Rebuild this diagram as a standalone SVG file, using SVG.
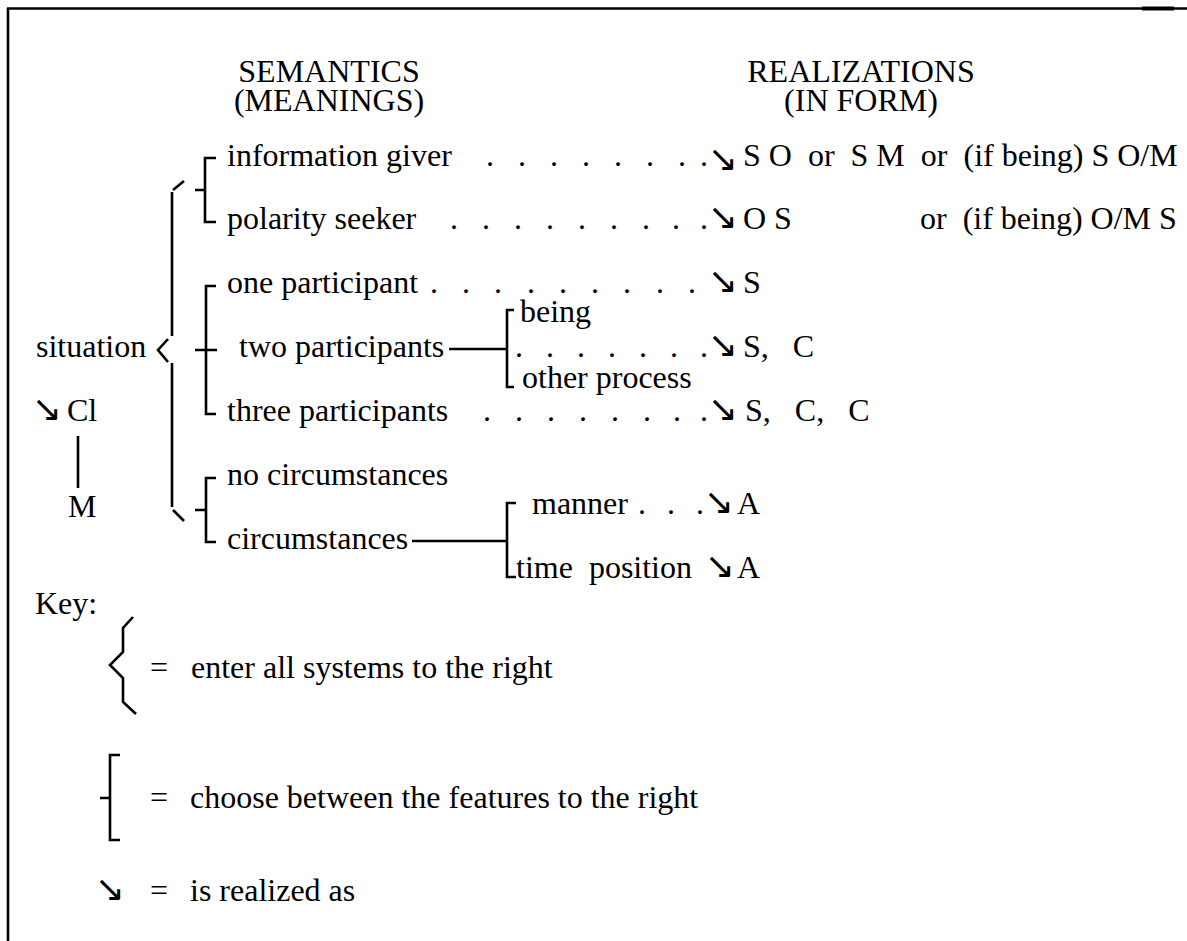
<svg xmlns="http://www.w3.org/2000/svg" width="1187" height="941" viewBox="0 0 1187 941">
<style>
text{font-family:'Liberation Serif','Times New Roman',Times,serif;font-size:32px;fill:#000}
.a{font-family:'DejaVu Sans',sans-serif;font-size:36px}
.ln{stroke:#000;stroke-width:2.6;fill:none}
</style>
<rect width="1187" height="941" fill="#fff"/>
<g id="frame" class="ln">
<path d="M7,8.5 H1187"/>
<path d="M1142,8.5 H1174" stroke-width="4"/>
<path d="M8,8 V941"/>
</g>
<g id="hdr-semantics"><text text-anchor="middle"><tspan x="329" y="82">SEMANTICS</tspan><tspan x="329" y="111">(MEANINGS)</tspan></text></g>
<g id="hdr-realizations"><text text-anchor="middle"><tspan x="861" y="82">REALIZATIONS</tspan><tspan x="861" y="111">(IN FORM)</tspan></text></g>
<g id="situation"><text x="36" y="357">situation</text></g>
<g id="cl"><text><tspan class="a" x="32" y="421">↘</tspan><tspan x="67" y="421">Cl</tspan></text></g>
<g id="m"><text x="68" y="517">M</text></g>
<g id="info-giver"><text x="227" y="166">information giver</text><text y="166"><tspan x="486 518 550 582 614 646 678 700">........</tspan><tspan class="a" x="708" y="171">↘</tspan><tspan x="743" y="166" xml:space="preserve">S O  or  S M  or  (if being) S O/M</tspan></text></g>
<g id="polarity-seeker"><text x="227" y="229">polarity seeker</text><text y="229"><tspan x="450 482 514 546 578 610 642 672 700">.........</tspan><tspan class="a" x="708">↘</tspan><tspan x="743">O S</tspan><tspan x="920" xml:space="preserve">or  (if being) O/M S</tspan></text></g>
<g id="one-participant"><text x="227" y="293">one participant</text><text y="293"><tspan x="430 462 494 527 559 591 623 656 688">.........</tspan><tspan class="a" x="708">↘</tspan><tspan x="743">S</tspan></text></g>
<g id="two-participants"><text x="239" y="357">two participants</text><text y="357"><tspan x="515 546 577 608 639 670 700">.......</tspan><tspan class="a" x="708">↘</tspan><tspan x="743" xml:space="preserve">S,   C</tspan></text></g>
<g id="being"><text x="520" y="322">being</text></g>
<g id="other-process"><text x="522" y="388">other process</text></g>
<g id="three-participants"><text x="227" y="421">three participants</text><text y="421"><tspan x="483 515 547 579 611 643 673 700">........</tspan><tspan class="a" x="708">↘</tspan><tspan x="745" xml:space="preserve">S,   C,   C</tspan></text></g>
<g id="no-circumstances"><text x="227" y="485">no circumstances</text></g>
<g id="circumstances"><text x="227" y="549">circumstances</text></g>
<g id="manner"><text x="532" y="514">manner</text><text y="514"><tspan x="638 667 696">...</tspan><tspan class="a" x="704">↘</tspan><tspan x="737">A</tspan></text></g>
<g id="time-position"><text y="578"><tspan x="516" xml:space="preserve">time  position</tspan><tspan class="a" x="705">↘</tspan><tspan x="737">A</tspan></text></g>
<g id="key">
<text x="35" y="614">Key:</text>
<path class="ln" d="M133,617 L123,628 V652 L110,665 L123,678 V702 L136,714"/>
<text y="678"><tspan x="150">=</tspan><tspan x="191">enter all systems to the right</tspan></text>
<path class="ln" d="M120,755 H110 V840 H120 M100,798 H110"/>
<text y="808"><tspan x="150">=</tspan><tspan x="190">choose between the features to the right</tspan></text>
<text y="901"><tspan class="a" x="95">↘</tspan><tspan x="150">=</tspan><tspan x="190">is realized as</tspan></text>
</g>
<g id="connectors" class="ln">
<path d="M173,190 L184,181"/>
<path d="M172,192 V336"/>
<polyline points="168,339 158,350 168,362"/>
<path d="M172,363 V507"/>
<path d="M173,510 L184,521"/>
<path d="M216,158 H205 V222 H216 M195,190 H205"/>
<path d="M216,286 H206 V414 H216 M195,350 H217"/>
<path d="M216,478 H206 V542 H216 M195,510 H206"/>
<path d="M449,349 H507"/>
<path d="M514,310 H507 V387 H514"/>
<path d="M412,541 H507"/>
<path d="M516,503 H507 V577 H516"/>
<path d="M78,436 V488"/>
</g>
</svg>
